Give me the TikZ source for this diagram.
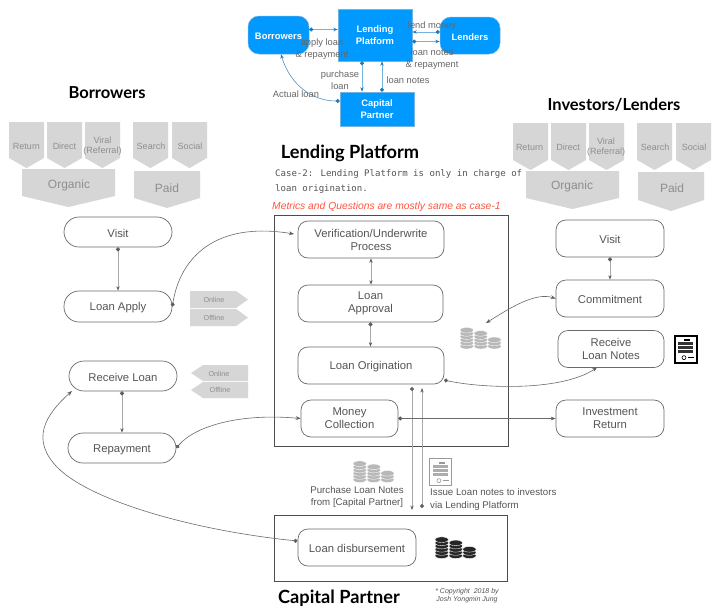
\documentclass[tikz,border=0pt]{standalone}
\usepackage{fontspec}
\setmainfont{Liberation Sans}
\newfontfamily\headfont{Lato}
\newfontfamily\casefont{DejaVu Sans Mono}
\usetikzlibrary{arrows.meta}
\definecolor{pblue}{HTML}{0099FF}
\definecolor{lblue}{HTML}{74B2E0}
\definecolor{dblue}{HTML}{1F77B8}
\definecolor{tagg}{HTML}{D6D6D6}
\definecolor{tagt}{HTML}{8E8E8E}
\definecolor{ink}{HTML}{555555}
\definecolor{edge}{HTML}{6A6A6A}
\definecolor{shaft}{HTML}{A8A8A8}
\definecolor{tipc}{HTML}{5F5F5F}
\definecolor{redt}{HTML}{FF5540}
\tikzset{
 x=1pt,y=-1pt,
 stepbox/.style={draw=edge,line width=.7pt,rounded corners=10pt,fill=white,text=ink,align=center,inner sep=0pt,font=\fontsize{11.3}{13}\selectfont,execute at begin node={\rule{0pt}{10.6pt}}},
 pill/.style={stepbox,rounded corners=15pt},
 frame/.style={draw=black!70,line width=.9pt},
 bluebox/.style={fill=pblue,draw=lblue,line width=.5pt,text=white,align=center,inner sep=0pt,font=\fontsize{9.4}{12.3}\selectfont\bfseries,execute at begin node={\rule{0pt}{9.8pt}}},
 bluelab/.style={text=black!60,align=center,inner sep=0pt,font=\fontsize{9.3}{12}\selectfont},
 bluearrow/.style={draw=lblue,line width=1pt,{Circle[length=4pt,color=dblue]}-{Stealth[length=4.5pt,color=dblue]}},
 bluearrowthin/.style={draw=dblue!80,line width=.6pt,{Circle[length=4pt,color=dblue]}-{Stealth[length=4.5pt,color=dblue]}},
 grayarrow/.style={draw=shaft,line width=1pt,{Circle[length=4pt,color=tipc]}-{Stealth[length=4.5pt,color=tipc]}},
 curvearrow/.style={draw=edge,line width=.6pt,{Circle[length=4pt,color=tipc]}-{Stealth[length=5pt,color=tipc]}},
 curvedouble/.style={draw=edge,line width=.6pt,{Stealth[length=5pt,color=tipc]}-{Stealth[length=5pt,color=tipc]}},
 headt/.style={inner sep=0pt,text=black,font=\fontsize{16.5}{18}\selectfont\headfont\bfseries},
 headbig/.style={headt,font=\fontsize{18.2}{20}\selectfont\headfont\bfseries},
 tagtext/.style={text=tagt,align=center,inner sep=0pt,font=\fontsize{9}{10.5}\selectfont},
 bigtag/.style={text=tagt,inner sep=0pt,font=\fontsize{12}{14}\selectfont},
 smalltag/.style={text=tagt,inner sep=0pt,font=\fontsize{7.2}{9}\selectfont},
 plainlab/.style={text=ink,align=center,inner sep=0pt,font=\fontsize{9.7}{12.6}\selectfont},
}
\newcommand{\downpenta}[5]{\fill[tagg] (#1,#3) -- (#2,#3) -- (#2,#4) -- ({(#1+#2)/2},#5) -- (#1,#4) -- cycle;}
% one coin stack: centre x, number of discs, fill, line
\newcommand{\coinstack}[4]{%
 \foreach \n in {1,...,#2}{%
   \filldraw[fill=#3,draw=#4,line width=.35pt] (#1,{-2.8-3.2*(\n-1)}) ellipse (6.7 and 2.8);
 }%
}
\newcommand{\coins}[4]{% left x, bottom y, fill, line
 \begin{scope}[shift={(#1,#2)}]
 \coinstack{6.7}{6}{#3}{#4}
 \coinstack{20.7}{5}{#3}{#4}
 \coinstack{34.4}{3}{#3}{#4}
 \end{scope}}
\newcommand{\certif}[6]{% x1 y1 x2 y2 border colour, border width
 \draw[#5,line width=#6,fill=white] (#1,#2) rectangle (#3,#4);
 \fill[#5] ({#1+(#3-#1)*.45},{#2+(#4-#2)*.13}) rectangle ({#1+(#3-#1)*.72},{#2+(#4-#2)*.22});
 \foreach \ff in {.25,.39,.53}{
  \fill[#5,opacity=.8] ({#1+(#3-#1)*.14},{#2+(#4-#2)*\ff}) rectangle ({#1+(#3-#1)*.86},{#2+(#4-#2)*(\ff+.115)});}
 \draw[#5,line width=.6pt] ({#1+(#3-#1)*.43},{#2+(#4-#2)*.82}) circle (2);
 \draw[#5,line width=.9pt] ({#1+(#3-#1)*.62},{#2+(#4-#2)*.82}) -- ({#1+(#3-#1)*.88},{#2+(#4-#2)*.82});
}
\begin{document}
\begin{tikzpicture}
\useasboundingbox (0,0) rectangle (714,611);
\fill[white] (0,0) rectangle (714,611);

% ---- top mini diagram
\node[bluebox,minimum width=61pt,minimum height=38pt,rounded corners=11pt] (tb) at (278.5,35) {Borrowers};
\node[bluebox,minimum width=74pt,minimum height=52pt] (tp) at (375,35) {Lending\\Platform};
\node[bluebox,minimum width=60pt,minimum height=37pt,rounded corners=11pt] (tl) at (470,35.5) {Lenders};
\node[bluebox,minimum width=74pt,minimum height=34pt] (tc) at (377,109) {Capital\\Partner};
\coordinate (tb1) at (tb.east |- 0,29.5); \coordinate (tp1) at (tp.west |- 0,29.5);
\coordinate (tl1) at (tl.west |- 0,32); \coordinate (tp2) at (tp.east |- 0,32);
\coordinate (tp3) at (tp.east |- 0,41.5); \coordinate (tl2) at (tl.west |- 0,41.5);
\coordinate (tp4) at (362,0 |- tp.south); \coordinate (tc1) at (362,0 |- tc.north);
\coordinate (tc2) at (382,0 |- tc.north); \coordinate (tp5) at (382,0 |- tp.south);
\coordinate (tc3) at (tc.west |- 0,101); \coordinate (tb2) at (281,0 |- tb.south);
\draw[bluearrow] (tb1) -- (tp1);
\draw[bluearrow] (tl1) -- (tp2);
\draw[bluearrow] (tp3) -- (tl2);
\draw[bluearrow] (tp4) -- (tc1);
\draw[bluearrow] (tc2) -- (tp5);
\draw[bluearrowthin] (tc3) .. controls (310,101) and (289,82) .. (tb2);
\node[bluelab] (l1) at (322,49) {apply loan\\\& repayment};
\node[bluelab] (l2) at (432,26) {lend money};
\node[bluelab] (l3) at (432,59) {loan notes\\\& repayment};
\node[bluelab] (l4) at (340,80) {purchase\\loan};
\node[bluelab] (l5) at (408,80) {loan notes};
\node[bluelab] (l6) at (296,94) {Actual loan};

% ---- headings
\node[headt] (h1) at (107,93) {Borrowers};
\node[headt] (h2) at (614,105) {Investors/Lenders};
\node[headbig] (h3) at (350,153) {Lending Platform};
\node[headbig] (h4) at (339,598) {Capital Partner};
\node[anchor=west,inner sep=0pt,text=ink,font=\fontsize{9.05}{15}\casefont,align=left] (cs) at (275,181.5) {Case-2: Lending Platform is only in charge of\\loan origination.};
\node[anchor=west,inner sep=0pt,text=redt,font=\fontsize{10.3}{11}\selectfont\itshape] (mt) at (272,207) {Metrics and Questions are mostly same as case-1};

% ---- left tags
\downpenta{9}{44}{122}{158}{168}
\downpenta{47}{82}{122}{158}{168}
\downpenta{85}{120}{122}{158}{168}
\downpenta{133}{168}{122}{158}{168}
\downpenta{172}{207}{122}{158}{168}
\downpenta{22}{115}{169}{196}{207}
\downpenta{134}{200}{171}{198}{208}
\node[tagtext] (a1) at (26.5,146) {Return};
\node[tagtext] (a2) at (64.5,146) {Direct};
\node[tagtext] (a3) at (102.5,146) {Viral\\(Referral)};
\node[tagtext] (a4) at (151,146) {Search};
\node[tagtext] (a5) at (190,146) {Social};
\node[bigtag] (a6) at (69,185.5) {Organic};
\node[bigtag] (a7) at (167,188.5) {Paid};

% ---- right tags
\downpenta{513}{548}{123}{160}{170}
\downpenta{551}{586}{123}{160}{170}
\downpenta{589}{624}{123}{160}{170}
\downpenta{637}{672}{123}{160}{170}
\downpenta{676}{711}{123}{160}{170}
\downpenta{526}{619}{171}{198}{209}
\downpenta{638}{704}{172}{200}{211}
\node[tagtext] (b1) at (529.5,147) {Return};
\node[tagtext] (b2) at (568,147) {Direct};
\node[tagtext] (b3) at (606,147) {Viral\\(Referral)};
\node[tagtext] (b4) at (655,147) {Search};
\node[tagtext] (b5) at (694,147) {Social};
\node[bigtag] (b6) at (572,186.5) {Organic};
\node[bigtag] (b7) at (672,188.5) {Paid};

% ---- online / offline tags
\fill[tagg] (190,291) -- (236,291) -- (248,299.5) -- (236,308) -- (190,308) -- cycle;
\fill[tagg] (190,309) -- (236,309) -- (248,317.5) -- (236,326) -- (190,326) -- cycle;
\node[smalltag] (c1) at (214,299.5) {Online};
\node[smalltag] (c2) at (214,318) {Offline};
\fill[tagg] (248,365) -- (203,365) -- (191,373) -- (203,381) -- (248,381) -- cycle;
\fill[tagg] (248,382) -- (203,382) -- (191,390) -- (203,398) -- (248,398) -- cycle;
\node[smalltag] (c3) at (219,374) {Online};
\node[smalltag] (c4) at (220,390) {Offline};

% ---- frames
\draw[frame] (274,215) rectangle (508,446);
\draw[frame] (274,515) rectangle (507,581);

% ---- connectors under boxes
\coordinate (ot) at (412,387); \coordinate (ob) at (412,510);
\coordinate (it) at (422,388); \coordinate (ib) at (422,508);
\draw[grayarrow] (ot) -- (ob);
\draw[grayarrow] (ib) -- (it);

% ---- process boxes
\node[pill,minimum width=108pt,minimum height=30pt] (visitL) at (118,232) {Visit};
\node[pill,minimum width=108pt,minimum height=31pt] (applyL) at (118,306.5) {Loan Apply};
\node[pill,minimum width=108pt,minimum height=30pt] (recvL) at (123,376) {Receive Loan};
\node[pill,minimum width=108pt,minimum height=30pt] (repayL) at (122,448) {Repayment};
\node[stepbox,minimum width=146pt,minimum height=37pt] (verif) at (371,239.5) {Verification/Underwrite\\Process};
\node[stepbox,minimum width=145pt,minimum height=37pt] (appr) at (370.5,303.5) {Loan\\Approval};
\node[stepbox,minimum width=146pt,minimum height=37pt] (orig) at (371,365.5) {Loan Origination};
\node[stepbox,minimum width=97pt,minimum height=37pt] (money) at (349.5,418.5) {Money\\Collection};
\node[stepbox,minimum width=108pt,minimum height=37pt] (visitR) at (610,238.5) {Visit};
\node[stepbox,minimum width=108pt,minimum height=37pt] (commit) at (610,298.5) {Commitment};
\node[stepbox,minimum width=106pt,minimum height=37pt] (notes) at (611,349) {Receive\\Loan Notes};
\node[stepbox,minimum width=108pt,minimum height=37pt] (invret) at (610,418.5) {Investment\\Return};
\node[stepbox,minimum width=118pt,minimum height=37pt] (disb) at (357,547.5) {Loan disbursement};

% ---- process connectors
\draw[grayarrow] (visitL.south) -- (applyL.north);
\draw[grayarrow] (repayL.north |- recvL.south) -- (repayL.north);
\draw[grayarrow,{Stealth[length=4.5pt,color=tipc]}-{Stealth[length=4.5pt,color=tipc]}] (verif.south) -- (verif.south |- appr.north);
\draw[grayarrow] (appr.south) -- (appr.south |- orig.north);
\draw[grayarrow] (visitR.south) -- (commit.north);
\draw[curvearrow] (money.east) -- (invret.west);
\coordinate (v1) at (294,234);
\draw[curvearrow] (applyL.east) .. controls (180,258) and (215,221) .. (v1);
\draw[curvearrow] (repayL.east) .. controls (195,426) and (240,413) .. (money.west);
\coordinate (o1) at (444,380); \coordinate (n1) at (597,367.5);
\draw[curvearrow] (o1) .. controls (480,388) and (560,392) .. (n1);
\coordinate (cc) at (486,323);
\draw[curvedouble] (cc) .. controls (510,308) and (535,292) .. (commit.west);
\coordinate (d1) at (297.5,541); \coordinate (r1) at (72,391); \coordinate (md) at (58,468);
\draw[curvearrow] (d1) .. controls (190,530) and (90,500) .. (md) .. controls (30,440) and (45,415) .. (r1);

% ---- icons
\coins{460}{349}{black!28}{white}
\coins{353}{482.5}{black!28}{white}
\coins{435}{558.5}{black!85}{white}
\certif{674.5}{335.5}{696.5}{362.5}{black}{2pt}
\certif{429.5}{458.5}{451.5}{485.5}{black!40}{1.4pt}

% ---- notes
\node[plainlab] (p1) at (357,497) {Purchase Loan Notes\\from [Capital Partner]};
\node[plainlab,anchor=west,align=left] (p2) at (430,499.5) {Issue Loan notes to investors\\via Lending Platform};
\node[text=ink,align=center,inner sep=0pt,font=\fontsize{7}{8}\selectfont\itshape] (cp) at (467,595.5) {* Copyright\ \ 2018 by\\Josh Yongmin Jung};
\end{tikzpicture}
\end{document}
